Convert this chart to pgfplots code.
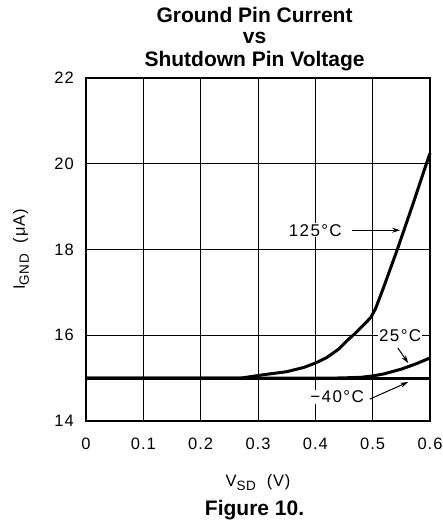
\documentclass[border=0pt]{standalone}
\usepackage{fontspec}
\setmainfont{Liberation Sans}
\usepackage{pgfplots}
\pgfplotsset{compat=1.18}
\usetikzlibrary{arrows.meta}
\newcommand{\lbl}{\fontsize{17}{19}\selectfont\addfontfeature{LetterSpace=8}}
\newcommand{\ttl}{\bfseries\fontsize{21}{24}\selectfont}
\begin{document}
\begin{tikzpicture}
	\path[use as bounding box] (-86pt,-108pt) rectangle (357pt,421pt);
	\begin{axis}[
			at={(0,0)},
			anchor=south west,
			scale only axis,
			width=344pt,
			height=343pt,
			xmin=0, xmax=0.6,
			ymin=14, ymax=22,
			xtick={0,0.1,...,0.6},
			ytick={14,16,18,20,22},
			xticklabels={0,0.1,0.2,0.3,0.4,0.5,0.6},
			major tick length=0pt,
			grid=major,
			grid style={black, line width=0.8pt},
			axis line style={black, line width=1.4pt},
			tick label style={font=\fontsize{16.5}{19}\selectfont\addfontfeature{LetterSpace=6}},
			xticklabel style={anchor=center, yshift=-23pt},
			yticklabel style={anchor=east, inner sep=0pt, xshift=-12pt},
			/pgf/number format/assume math mode=true,
			clip=false
		]
		% -40 C
		\addplot[black, line width=3pt] coordinates {
				(0,15) (0.6,15)
			};
		% 25 C
		\addplot[black, line width=3pt] coordinates {
				(0,15) (0.43,15) (0.46,15.01) (0.48,15.02) (0.50,15.05)
				(0.52,15.1) (0.55,15.21) (0.575,15.33) (0.6,15.47)
			};
		% 125 C
		\addplot[black, line width=3pt] coordinates {
				(0,15) (0.27,15) (0.29,15.04) (0.31,15.08) (0.35,15.15)
				(0.38,15.25) (0.40,15.35) (0.42,15.48) (0.44,15.67)
				(0.455,15.87) (0.47,16.05) (0.485,16.25) (0.497,16.42)
				(0.505,16.62) (0.52,17.15) (0.543,18) (0.57,19.05) (0.6,20.25)
			};

		\draw[line width=1pt, -{Stealth[length=8pt,width=5pt]}] (axis cs:0.464,18.45) -- (axis cs:0.548,18.45);
		\draw[line width=1pt, -{Stealth[length=8pt,width=5pt]}] (axis cs:0.544,15.70) -- (axis cs:0.562,15.35);
		\draw[line width=1pt, -{Stealth[length=8pt,width=5pt]}] (axis cs:0.495,14.51) -- (axis cs:0.562,14.91);
		\node[fill=white, inner sep=1pt, font=\lbl] at (axis cs:0.40,18.45) {125°C};
		\node[fill=white, inner sep=1pt, font=\lbl] at (axis cs:0.548,16.0) {25°C};
		\node[fill=white, inner sep=1pt, font=\lbl] at (axis cs:0.438,14.56) {−40°C};

		% labels
		\node[rotate=90, font=\fontsize{16.5}{19}\selectfont\addfontfeature{LetterSpace=5}] at (rel axis cs:-0.189,0.5)
			{I\raisebox{-0.45ex}{\fontsize{13.5}{15}\selectfont\addfontfeature{LetterSpace=5}GND}\ \ (μA)};
		\node[font=\fontsize{16.5}{19}\selectfont\addfontfeature{LetterSpace=5}] at (rel axis cs:0.5,0) [yshift=-62pt]
			{V\raisebox{-0.45ex}{\fontsize{13.5}{15}\selectfont\addfontfeature{LetterSpace=5}SD}\ \ (V)};
		\node[font=\ttl, anchor=base, inner sep=0pt] at (rel axis cs:0.49,0) [yshift=-94pt] {Figure 10.};
		\node[font=\ttl, anchor=base, inner sep=0pt] at (rel axis cs:0.49,1) [yshift=55.3pt] {Ground Pin Current};
		\node[font=\ttl, anchor=base, inner sep=0pt] at (rel axis cs:0.49,1) [yshift=34.7pt] {vs};
		\node[font=\ttl, anchor=base, inner sep=0pt] at (rel axis cs:0.49,1) [yshift=11.3pt] {Shutdown Pin Voltage};
	\end{axis}
\end{tikzpicture}
\end{document}
